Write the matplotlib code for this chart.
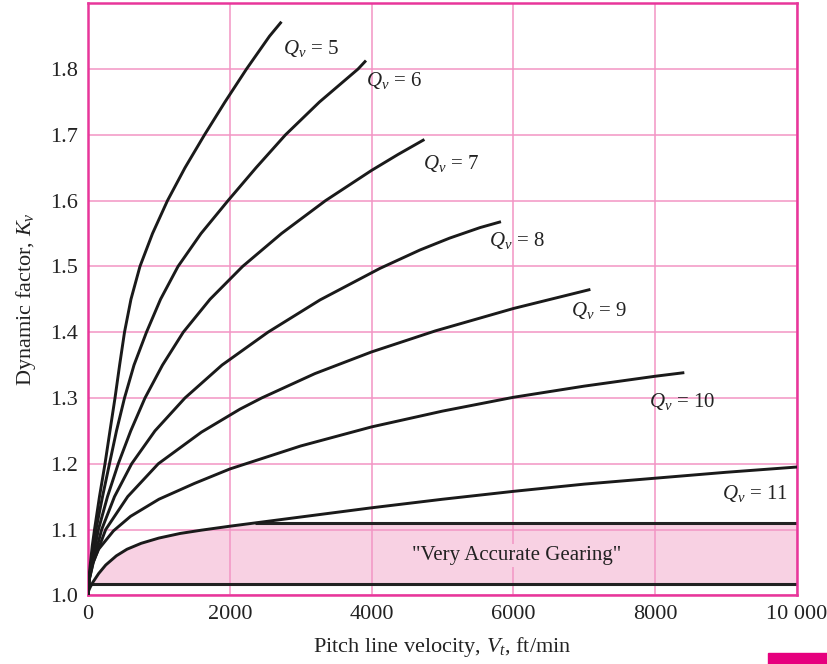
import matplotlib
matplotlib.use("Agg")
import matplotlib.pyplot as plt
import numpy as np
from matplotlib.patches import Rectangle

plt.rcParams['font.family'] = ['Liberation Serif', 'DejaVu Serif']
plt.rcParams['mathtext.fontset'] = 'custom'
plt.rcParams['mathtext.rm'] = 'Liberation Serif'
plt.rcParams['mathtext.it'] = 'Liberation Serif:italic'

# ---- data: pitch-line velocity (ft/min) and dynamic factor Kv ----
V5 = [0, 12, 35, 60, 92, 162, 240, 310, 381, 446, 515, 606, 733, 910, 1121, 1368, 1643, 1932, 2235, 2560, 2729]
K5 = [1.0, 1.025, 1.05, 1.075, 1.10, 1.15, 1.20, 1.25, 1.30, 1.35, 1.40, 1.45, 1.50, 1.55, 1.60, 1.65, 1.70, 1.75, 1.80, 1.85, 1.872]

V6 = [0, 15, 49, 113, 205, 303, 402, 515, 649, 825, 1023, 1270, 1594, 1975, 2370, 2785, 3265, 3808, 3921]
K6 = [1.0, 1.025, 1.05, 1.10, 1.15, 1.20, 1.25, 1.30, 1.35, 1.40, 1.45, 1.50, 1.55, 1.60, 1.65, 1.70, 1.75, 1.80, 1.813]

V7 = [0, 18, 56, 147, 275, 427, 603, 804, 1051, 1344, 1721, 2181, 2729, 3350, 4000, 4370, 4745]
K7 = [1.0, 1.025, 1.05, 1.10, 1.15, 1.20, 1.25, 1.30, 1.35, 1.40, 1.45, 1.50, 1.55, 1.60, 1.646, 1.670, 1.693]

V8 = [0, 20, 71, 193, 374, 616, 945, 1368, 1890, 2539, 3272, 4118, 4683, 5100, 5529, 5825]
K8 = [1.0, 1.025, 1.05, 1.10, 1.15, 1.20, 1.25, 1.30, 1.35, 1.40, 1.449, 1.497, 1.525, 1.543, 1.559, 1.568]

V9 = [0, 20, 75, 250, 560, 992, 1600, 2144, 2450, 3200, 4000, 4900, 6000, 7086]
K9 = [1.0, 1.025, 1.05, 1.10, 1.15, 1.20, 1.248, 1.283, 1.30, 1.337, 1.37, 1.402, 1.436, 1.465]

V10 = [0, 10, 50, 150, 360, 600, 1000, 1500, 2000, 3000, 4000, 5000, 6000, 7000, 8000, 8411]
K10 = [1.0, 1.022, 1.045, 1.07, 1.098, 1.12, 1.146, 1.170, 1.192, 1.227, 1.256, 1.280, 1.301, 1.318, 1.333, 1.3385]

V11 = [0, 10, 30, 70, 150, 250, 400, 550, 750, 1000, 1300, 1600, 2000, 2500, 3000, 4000, 5000,
       6000, 7000, 8000, 9000, 10000]
K11 = [1.0, 1.007, 1.012, 1.02, 1.033, 1.046, 1.06, 1.07, 1.079, 1.087, 1.094, 1.099, 1.105, 1.112,
       1.119, 1.133, 1.146, 1.158, 1.169, 1.178, 1.187, 1.195]

curves = [(5, V5, K5), (6, V6, K6), (7, V7, K7), (8, V8, K8), (9, V9, K9), (10, V10, K10), (11, V11, K11)]

# "very accurate gearing" band
band_low = 1.017
band_high = 1.11
band_flat_start = 2350
v_max = 10000

x_ticks = [0, 2000, 4000, 6000, 8000, 10000]
x_tick_labels = ["0", "2000", "4000", "6000", "8000", "10 000"]
y_ticks = [1.0, 1.1, 1.2, 1.3, 1.4, 1.5, 1.6, 1.7, 1.8]
y_tick_labels = ["1.0", "1.1", "1.2", "1.3", "1.4", "1.5", "1.6", "1.7", "1.8"]

# label anchor positions (left edge, vertical center) in data units
label_pos = {5: (2744, 1.832), 6: (3925, 1.782), 7: (4720, 1.657), 8: (5662, 1.540),
             9: (6818, 1.4336), 10: (7916, 1.294), 11: (8939, 1.155)}

frame_c = '#e8369b'
grid_c = '#f295c4'
fill_c = '#f8d1e3'

fig = plt.figure(figsize=(8.27, 6.64), dpi=100)
ax = fig.add_axes([0.1064, 0.1035, 0.8573, 0.8915])
ax.set_xlim(0, 10000)
ax.set_ylim(1.0, 1.9)

# shaded band
v11 = np.array(V11, dtype=float)
k11 = np.array(K11, dtype=float)
upper = np.minimum(k11, band_high)
ax.fill_between(v11, band_low, upper, where=upper >= band_low, interpolate=True,
                color=fill_c, lw=0, zorder=0.2)
ax.hlines(band_low, 0, v_max, color='#222222', lw=2.2, zorder=2)
ax.hlines(band_high, band_flat_start, v_max, color='#222222', lw=2.2, zorder=2)

for q, v, k in curves:
    ax.plot(v, k, color='#1a1a1a', lw=2.1, solid_capstyle='butt', solid_joinstyle='round', zorder=3)
    lx, ly = label_pos[q]
    ax.text(lx, ly, r"$Q_v$ = %d" % q, fontsize=15, ha='left', va='center', color='#222222', zorder=4)

ax.text(6040, 1.06, '"Very Accurate Gearing"', fontsize=15, ha='center', va='center', color='#222222',
        zorder=4, bbox=dict(boxstyle='square,pad=0.1', fc=fill_c, ec='none'))

ax.set_xticks(x_ticks)
ax.set_xticklabels(x_tick_labels)
ax.set_yticks(y_ticks)
ax.set_yticklabels(y_tick_labels)
ax.set_axisbelow(True)
ax.grid(True, color=grid_c, lw=1.1, zorder=0.5)
ax.tick_params(length=0, labelsize=16, colors='#222222', pad=7)
for s in ax.spines.values():
    s.set_color(frame_c)
    s.set_linewidth(1.8)

ax.set_xlabel(r"Pitch line velocity, $V_t$, ft/min", fontsize=16, color='#222222', labelpad=8)
ax.set_ylabel(r"Dynamic factor, $K_v$", fontsize=16, color='#222222', labelpad=9)

fig.patches.append(Rectangle((768 / 827, 0), 59 / 827, 11 / 664, transform=fig.transFigure,
                             color='#e6007e', zorder=5))

fig.savefig('out.png', dpi=100)
